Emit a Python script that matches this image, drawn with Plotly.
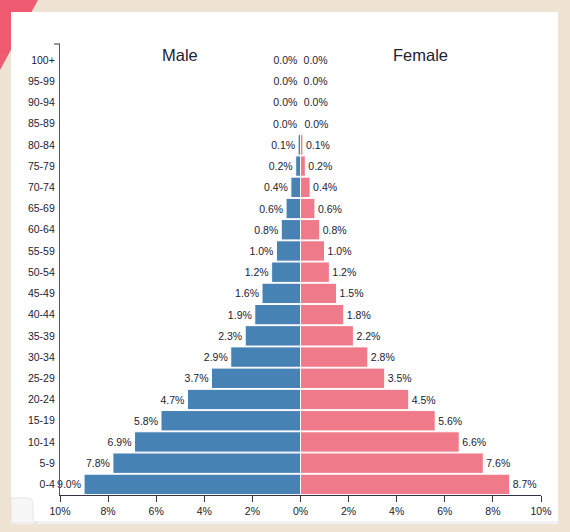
import plotly.graph_objects as go

ages = ["0-4", "5-9", "10-14", "15-19", "20-24", "25-29", "30-34", "35-39", "40-44",
        "45-49", "50-54", "55-59", "60-64", "65-69", "70-74", "75-79", "80-84",
        "85-89", "90-94", "95-99", "100+"]
male = [9.0, 7.8, 6.9, 5.8, 4.7, 3.7, 2.9, 2.3, 1.9, 1.6, 1.2, 1.0, 0.8, 0.6, 0.4,
        0.2, 0.1, 0.02, 0.008, 0.004, 0.002]
female = [8.7, 7.6, 6.6, 5.6, 4.5, 3.5, 2.8, 2.2, 1.8, 1.5, 1.2, 1.0, 0.8, 0.6, 0.4,
          0.2, 0.1, 0.04, 0.015, 0.005, 0.002]
tick_vals = [-10, -8, -6, -4, -2, 0, 2, 4, 6, 8, 10]
tick_text = ["10%", "8%", "6%", "4%", "2%", "0%", "2%", "4%", "6%", "8%", "10%"]

MALE_C = "#4682b4"
FEMALE_C = "#ef7a89"
TXT = "#222233"
FONT = "Liberation Sans, Arial, sans-serif"

W, H = 570, 532
ML, MR, MT, MB = 60, 29, 44, 37
PW, PH = W - ML - MR, H - MT - MB


def px(x):
    return (x - ML) / PW


def py(y):
    return (H - MB - y) / PH


fig = go.Figure()
fig.add_trace(go.Bar(
    y=ages, x=[-v for v in male], customdata=male, orientation="h", name="Male",
    marker=dict(color=MALE_C, line=dict(color="white", width=1)),
    texttemplate="%{customdata:.1f}%", textposition="outside", cliponaxis=False,
    constraintext="none", textfont=dict(size=10.5, color=TXT, family=FONT),
    hoverinfo="skip"))
fig.add_trace(go.Bar(
    y=ages, x=female, customdata=female, orientation="h", name="Female",
    marker=dict(color=FEMALE_C, line=dict(color="white", width=1)),
    texttemplate="%{customdata:.1f}%", textposition="outside", cliponaxis=False,
    constraintext="none", textfont=dict(size=10.5, color=TXT, family=FONT),
    hoverinfo="skip"))

tab = (f"M {px(11)} {py(498)} L {px(27)} {py(498)} "
       f"Q {px(33)} {py(498)} {px(33)} {py(504)} L {px(33)} {py(518)} "
       f"Q {px(33)} {py(523)} {px(38)} {py(523)} L {px(11)} {py(523)} Z")

shapes = [
    # pink corner decoration
    dict(type="path", xref="paper", yref="paper", layer="below",
         path=f"M {px(0)} {py(0)} L {px(38)} {py(0)} L {px(0)} {py(70)} Z",
         fillcolor="#ee5b70", line=dict(width=0)),
    # white panel
    dict(type="rect", xref="paper", yref="paper", layer="below",
         x0=px(11), x1=px(558), y0=py(524), y1=py(12),
         fillcolor="white", line=dict(width=0)),
    # faint bottom shadow
    dict(type="rect", xref="paper", yref="paper", layer="below",
         x0=px(33), x1=px(558), y0=py(524), y1=py(521),
         fillcolor="#f1f1f1", line=dict(width=0)),
    # bottom-left tab
    dict(type="path", xref="paper", yref="paper", layer="below", path=tab,
         fillcolor="#f7f7f7", line=dict(color="#e3e3e3", width=1)),
    # top outer tick of y axis
    dict(type="line", xref="paper", yref="paper",
         x0=px(54), x1=px(60), y0=1, y1=1, line=dict(color="#555566", width=1.2)),
]

fig.update_layout(
    width=W, height=H,
    margin=dict(l=ML, r=MR, t=MT, b=MB, pad=0),
    paper_bgcolor="#efe4d3", plot_bgcolor="rgba(0,0,0,0)",
    barmode="overlay", bargap=0.04, showlegend=False,
    font=dict(family=FONT, size=10, color=TXT),
    shapes=shapes,
    annotations=[
        dict(x=-5, y=ages[-1], yshift=5, text="Male", showarrow=False,
             font=dict(size=16.5, color=TXT, family=FONT)),
        dict(x=5, y=ages[-1], yshift=5, text="Female", showarrow=False,
             font=dict(size=16.5, color=TXT, family=FONT)),
    ],
)
fig.update_xaxes(range=[-10, 10], tickvals=tick_vals, ticktext=tick_text,
                 showgrid=False, zeroline=False, showline=True, linecolor="#333344",
                 linewidth=1.2, ticks="outside", ticklen=6, tickcolor="#333344",
                 tickfont=dict(size=10.5, color=TXT), fixedrange=True)
fig.update_yaxes(categoryorder="array", categoryarray=ages, showgrid=False,
                 zeroline=False, showline=True, linecolor="#555566", linewidth=1.2,
                 ticks="", tickfont=dict(size=10.5, color=TXT), ticklabelstandoff=2,
                 fixedrange=True)

fig.write_html("out.html", config={"displayModeBar": False},
               post_script="document.body.style.margin='0';"
                           "document.body.style.overflow='hidden';")
